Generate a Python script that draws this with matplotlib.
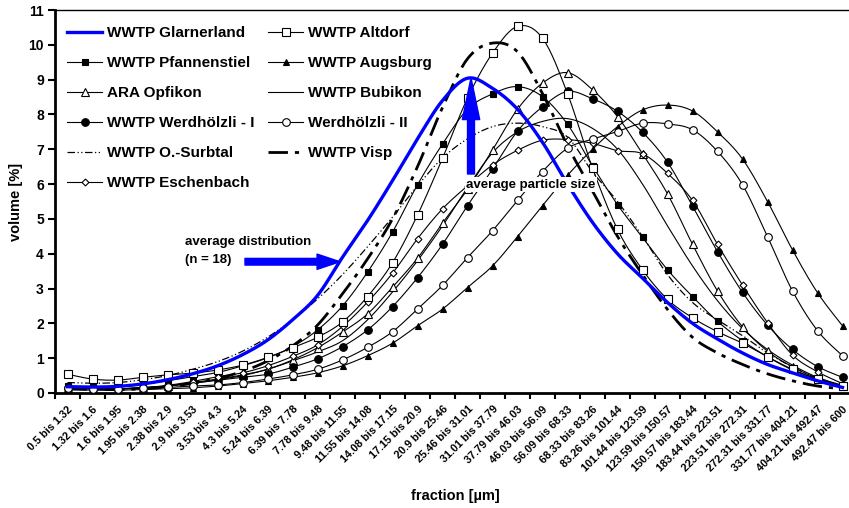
import numpy as np
import matplotlib
matplotlib.use("Agg")
import matplotlib.pyplot as plt
from matplotlib.lines import Line2D

plt.rcParams['font.family'] = ['Liberation Sans', 'DejaVu Sans']
plt.rcParams['font.weight'] = 'bold'

categories = ["0.5 bis 1.32", "1.32 bis 1.6", "1.6 bis 1.95", "1.95 bis 2.38", "2.38 bis 2.9",
              "2.9 bis 3.53", "3.53 bis 4.3", "4.3 bis 5.24", "5.24 bis 6.39", "6.39 bis 7.78",
              "7.78 bis 9.48", "9.48 bis 11.55", "11.55 bis 14.08", "14.08 bis 17.15",
              "17.15 bis 20.9", "20.9 bis 25.46", "25.46 bis 31.01", "31.01 bis 37.79",
              "37.79 bis 46.03", "46.03 bis 56.09", "56.09 bis 68.33", "68.33 bis 83.26",
              "83.26 bis 101.44", "101.44 bis 123.59", "123.59 bis 150.57", "150.57 bis 183.44",
              "183.44 bis 223.51", "223.51 bis 272.31", "272.31 bis 331.77", "331.77 bis 404.21",
              "404.21 bis 492.47", "492.47 bis 600"]

glarnerland = [0.18, 0.17, 0.19, 0.26, 0.38, 0.55, 0.78, 1.1, 1.52, 2.1, 2.8, 3.9, 4.95, 6.1, 7.3, 8.4,
               9.04, 8.75, 8.15, 7.2, 6.0, 4.9, 4.0, 3.3, 2.6, 2.0, 1.55, 1.15, 0.82, 0.58, 0.35, 0.16]
altdorf = [0.54, 0.40, 0.37, 0.45, 0.52, 0.57, 0.66, 0.80, 1.02, 1.3, 1.6, 2.04, 2.77, 3.74, 5.11, 6.74,
           8.47, 9.76, 10.53, 10.19, 8.6, 6.46, 4.7, 3.54, 2.69, 2.16, 1.76, 1.43, 1.04, 0.68, 0.4, 0.2]
pfannenstiel = [0.2, 0.17, 0.18, 0.25, 0.35, 0.47, 0.59, 0.78, 1.01, 1.33, 1.81, 2.5, 3.47, 4.62, 5.98, 7.15,
                8.15, 8.59, 8.80, 8.51, 7.72, 6.52, 5.41, 4.47, 3.54, 2.77, 2.06, 1.5, 1.04, 0.66, 0.4, 0.2]
augsburg = [0.1, 0.08, 0.08, 0.1, 0.12, 0.15, 0.2, 0.27, 0.35, 0.45, 0.58, 0.78, 1.07, 1.43, 1.93, 2.41,
            3.03, 3.65, 4.49, 5.38, 6.25, 7.0, 7.65, 8.13, 8.27, 8.10, 7.5, 6.72, 5.5, 4.11, 2.88, 1.93]
opfikon = [0.15, 0.12, 0.12, 0.15, 0.2, 0.3, 0.4, 0.52, 0.68, 0.95, 1.3, 1.75, 2.27, 3.04, 3.87, 4.88,
           5.85, 6.98, 8.15, 8.9, 9.2, 8.71, 7.94, 6.87, 5.72, 4.27, 2.93, 1.9, 1.2, 0.75, 0.42, 0.2]
bubikon = [0.15, 0.12, 0.12, 0.15, 0.2, 0.28, 0.38, 0.5, 0.68, 0.92, 1.18, 1.5, 2.1, 2.9, 3.8, 4.8,
           5.9, 6.9, 7.5, 7.8, 7.88, 7.6, 7.0, 6.0, 4.8, 3.65, 2.65, 1.85, 1.25, 0.8, 0.45, 0.22]
werdhoelzli_1 = [0.15, 0.12, 0.12, 0.15, 0.2, 0.28, 0.37, 0.45, 0.54, 0.74, 0.98, 1.33, 1.81, 2.48, 3.31, 4.27,
                 5.38, 6.43, 7.52, 8.22, 8.66, 8.45, 8.09, 7.49, 6.63, 5.37, 4.06, 2.89, 1.95, 1.25, 0.76, 0.45]
werdhoelzli_2 = [0.15, 0.12, 0.12, 0.14, 0.16, 0.2, 0.23, 0.3, 0.4, 0.52, 0.68, 0.95, 1.31, 1.76, 2.41, 3.09,
                 3.89, 4.66, 5.53, 6.36, 7.03, 7.29, 7.51, 7.75, 7.73, 7.56, 6.94, 5.98, 4.49, 2.93, 1.79, 1.07]
surbtal = [0.3, 0.28, 0.3, 0.38, 0.5, 0.68, 0.9, 1.2, 1.6, 2.1, 2.7, 3.4, 4.2, 5.05, 5.95, 6.75,
           7.3, 7.65, 7.75, 7.65, 7.35, 6.35, 5.5, 4.5, 3.4, 2.6, 2.1, 1.65, 1.15, 0.75, 0.42, 0.2]
visp = [0.12, 0.1, 0.1, 0.12, 0.18, 0.28, 0.42, 0.62, 0.92, 1.35, 1.95, 2.85, 3.85, 5.0, 6.5, 8.2,
        9.6, 10.05, 9.8, 8.6, 7.1, 5.8, 4.5, 3.4, 2.4, 1.6, 1.15, 0.82, 0.55, 0.35, 0.2, 0.12]
eschenbach = [0.15, 0.12, 0.12, 0.15, 0.22, 0.33, 0.47, 0.58, 0.78, 1.05, 1.38, 1.91, 2.61, 3.44, 4.43, 5.29,
              5.95, 6.55, 6.97, 7.26, 7.28, 7.17, 6.96, 6.87, 6.31, 5.53, 4.27, 3.1, 2.02, 1.09, 0.61, 0.27]


def smooth(y, n=16):
    # catmull-rom curve through the points, like excel's smoothed line
    pts = np.column_stack([np.arange(len(y), dtype=float), np.asarray(y, dtype=float)])
    p = np.vstack([pts[0], pts, pts[-1]])
    t = np.linspace(0, 1, n, endpoint=False)[:, None]
    out = []
    for k in range(1, len(p) - 2):
        p0, p1, p2, p3 = p[k - 1], p[k], p[k + 1], p[k + 2]
        out.append(0.5 * (2 * p1 + (p2 - p0) * t + (2 * p0 - 5 * p1 + 4 * p2 - p3) * t ** 2
                          + (3 * p1 - p0 - 3 * p2 + p3) * t ** 3))
    out.append(pts[-1:])
    arr = np.vstack(out)
    return arr[:, 0], arr[:, 1]


# label, data, linestyle, linewidth, marker, marker face, marker size
series = [
    ("WWTP Pfannenstiel", pfannenstiel, '-', 0.8, 's', 'black', 5),
    ("ARA Opfikon", opfikon, '-', 0.8, '^', 'white', 5.5),
    ("WWTP Werdhölzli - I", werdhoelzli_1, '-', 0.8, 'o', 'black', 5.5),
    ("WWTP O.-Surbtal", surbtal, (0, (6, 2, 1, 2, 1, 2)), 0.9, None, None, 0),
    ("WWTP Eschenbach", eschenbach, '-', 0.8, 'D', 'white', 3.5),
    ("WWTP Altdorf", altdorf, '-', 0.8, 's', 'white', 5.5),
    ("WWTP Augsburg", augsburg, '-', 0.8, '^', 'black', 5),
    ("WWTP Bubikon", bubikon, '-', 0.8, None, None, 0),
    ("Werdhölzli - II", werdhoelzli_2, '-', 0.8, 'o', 'white', 5.5),
    ("WWTP Visp", visp, (0, (7, 2.5, 1.5, 2.5)), 2.0, None, None, 0),
]

fig = plt.figure(figsize=(8.49, 5.08), dpi=100)
ax = fig.add_axes([55 / 849, 115 / 508, 800 / 849, 383 / 508])

x = np.arange(len(categories))
handles = {}
for label, data, ls, lw, mk, mfc, ms in series:
    sx, sy = smooth(data)
    ax.plot(sx, sy, color='black', linestyle=ls, linewidth=lw, zorder=2)
    if mk:
        ax.plot(x, data, linestyle='none', marker=mk, markersize=ms, markerfacecolor=mfc,
                markeredgecolor='black', markeredgewidth=0.8, zorder=3)
    handles[label] = Line2D([], [], color='black', linestyle=ls, linewidth=lw, marker=mk,
                            markersize=ms, markerfacecolor=mfc, markeredgecolor='black',
                            markeredgewidth=0.8)

sx, sy = smooth(glarnerland)
ax.plot(sx, sy, color='#0000ff', linewidth=2.4, zorder=4)
handles["WWTP Glarnerland"] = Line2D([], [], color='#0000ff', linewidth=2.4)

order = ["WWTP Glarnerland", "WWTP Pfannenstiel", "ARA Opfikon", "WWTP Werdhölzli - I",
         "WWTP O.-Surbtal", "WWTP Eschenbach", "WWTP Altdorf", "WWTP Augsburg",
         "WWTP Bubikon", "Werdhölzli - II", "WWTP Visp"]
ax.legend([handles[k] for k in order], order, ncol=2, frameon=False, loc='upper left',
          bbox_to_anchor=(67 / 849, 1 - 26 / 508), bbox_transform=fig.transFigure,
          borderaxespad=0, borderpad=0, handlelength=2.3, handletextpad=0.3,
          columnspacing=0.9, labelspacing=1.05, numpoints=1, prop={'size': 11, 'weight': 'bold'})

# annotations
ax.annotate('', xy=(10.9, 3.77), xytext=(7.1, 3.77),
            arrowprops=dict(arrowstyle='simple,head_length=1.65,head_width=1.1,tail_width=0.48',
                            color='#0000ff', mutation_scale=10, shrinkA=0, shrinkB=0), zorder=5)
ax.text(4.7, 4.35, "average distribution", fontsize=9.5, fontweight='bold', ha='left', va='center')
ax.text(4.7, 3.82, "(n = 18)", fontsize=9.5, fontweight='bold', ha='left', va='center')

ax.annotate('', xy=(16.14, 9.05), xytext=(16.14, 6.29),
            arrowprops=dict(arrowstyle='simple,head_length=3.0,head_width=1.25,tail_width=0.5',
                            color='#0000ff', mutation_scale=10, shrinkA=0, shrinkB=0), zorder=5)
ax.text(15.94, 5.98, "average particle size", fontsize=9.5, fontweight='bold', ha='left',
        va='center', zorder=6, bbox=dict(facecolor='white', edgecolor='none', pad=1))

ax.set_xlim(-0.5, 31.5)
ax.set_ylim(0, 11)
ax.set_yticks(range(0, 12))
ax.set_yticklabels([str(v) for v in range(0, 12)], fontsize=10, fontweight='bold')
ax.set_xticks(np.arange(-0.5, 32, 1.0))
ax.set_xticklabels([])
ax.set_xticks(x, minor=True)
ax.set_xticklabels(categories, minor=True, rotation=45, ha='right', va='top',
                   rotation_mode='anchor', fontsize=7.8, fontweight='bold')
ax.tick_params(axis='x', which='minor', length=0, pad=8)
ax.tick_params(axis='x', which='major', length=4, width=1.5, direction='out')
ax.tick_params(axis='y', length=5, width=1.5, direction='out', pad=3)

ax.spines['left'].set_linewidth(2)
ax.spines['bottom'].set_linewidth(2)
ax.spines['top'].set_linewidth(1)
ax.spines['right'].set_visible(False)

ax.set_ylabel("volume [%]", fontsize=10.5, fontweight='bold', labelpad=4)
fig.text(455 / 849, 1 - 496 / 508, "fraction [\u00b5m]", fontsize=10.5, fontweight='bold',
         ha='center', va='center')

fig.savefig("out.png", dpi=100)
